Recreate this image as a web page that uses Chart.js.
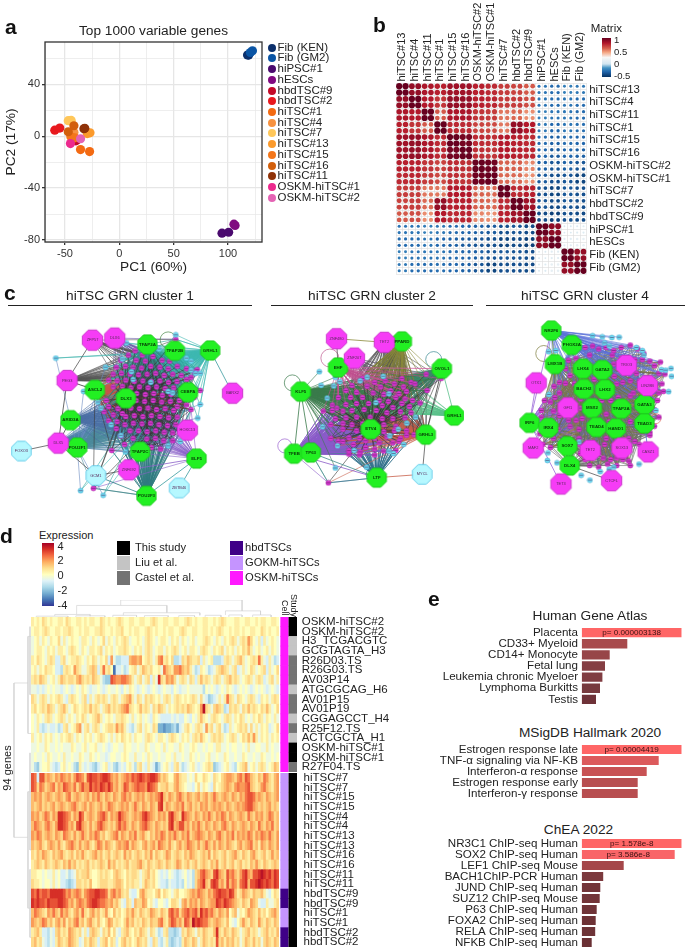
<!DOCTYPE html>
<html>
<head>
<meta charset="utf-8">
<title>hiTSC figure</title>
<script src="https://cdn.jsdelivr.net/npm/chart.js@4/dist/chart.umd.js"></script>
<style>
  html, body { margin: 0; background: #fff; }
  body { position: relative; width: 685px; height: 949px; overflow: hidden; font-family: "Liberation Sans", Arial, sans-serif; color: #222; }
  canvas { position: absolute; }
  .t { position: absolute; white-space: nowrap; line-height: 1; transform: translateY(-50%); }
  .c { transform: translate(-50%, -50%); }
  .letter { font-weight: bold; font-size: 21px; color: #111; }
  .bar { position: absolute; }
</style>
</head>
<body>
<script>
// panel a
const pcaSamples = ['Fib (KEN)', 'Fib (GM2)', 'hiPSC#1', 'hESCs', 'hbdTSC#9', 'hbdTSC#2', 'hiTSC#1', 'hiTSC#4', 'hiTSC#7', 'hiTSC#13', 'hiTSC#15', 'hiTSC#16', 'hiTSC#11', 'OSKM-hiTSC#1', 'OSKM-hiTSC#2'];
const pcaColors = ['#0b2f6b', '#0a55a5', '#4a0a6e', '#800a80', '#c40a28', '#e8191e', '#f36a12', '#f79240', '#ffc75a', '#fb9a2c', '#f4761a', '#d25f0c', '#8f3208', '#ec2a8e', '#e463b4'];
const pc1Values = [[119, 118], [122.5, 120.6], [94.5, 100.6], [106.5, 105.5], [-40, -38.5], [-59.4, -54.8], [-35.7, -27.4], [-41.8, -43], [-47, -44.3], [-27, -29.5], [-44.6, -41], [-41.8, -47], [-32.6, -31.8], [-45], [-35.7]];
const pc2Values = [[62.4, 62.5], [65.7, 64.4], [-74.7, -74], [-68.8, -67.8], [-3.6, -2.6], [4.6, 6.2], [-10.3, -11.9], [3.1, 1.5], [11.9, 12.1], [2.6, 2], [-0.5, -1.3], [8, 3.4], [5.7, 6], [-5.7], [-2]];
const pc1Ticks = [-50, -25, 0, 25, 50, 75, 100, 125];

// panel b, sample level correlation x100, each sample has two replicates in the plot
const corrSamples = ['hiTSC#13', 'hiTSC#4', 'hiTSC#11', 'hiTSC#1', 'hiTSC#15', 'hiTSC#16', 'OSKM-hiTSC#2', 'OSKM-hiTSC#1', 'hiTSC#7', 'hbdTSC#2', 'hbdTSC#9', 'hiPSC#1', 'hESCs', 'Fib (KEN)', 'Fib (GM2)'];
const corrRows = [
  [100, 88, 82, 78, 85, 85, 78, 75, 70, 68, 62, -25, -28, -22, -24],
  [88, 100, 80, 72, 88, 88, 78, 76, 70, 70, 65, -25, -28, -25, -28],
  [82, 80, 100, 62, 82, 82, 72, 70, 55, 58, 50, -22, -25, -25, -28],
  [78, 72, 62, 100, 75, 75, 68, 66, 55, 88, 80, -24, -30, -25, -27],
  [85, 88, 82, 75, 100, 96, 75, 74, 80, 78, 75, -28, -32, -28, -30],
  [85, 88, 82, 75, 96, 100, 74, 72, 80, 78, 76, -30, -34, -30, -32],
  [78, 78, 72, 68, 75, 74, 100, 98, 60, 60, 52, -32, -36, -32, -36],
  [75, 76, 70, 66, 74, 72, 98, 100, 58, 58, 50, -34, -38, -36, -42],
  [70, 70, 55, 55, 80, 80, 60, 58, 100, 75, 78, -38, -42, -35, -38],
  [68, 70, 58, 88, 78, 78, 60, 58, 75, 100, 85, -36, -40, -36, -38],
  [62, 65, 50, 80, 75, 76, 52, 50, 78, 85, 100, -40, -44, -38, -40],
  [-25, -25, -22, -24, -28, -30, -32, -34, -38, -36, -40, 100, 90, 5, 8],
  [-28, -28, -25, -30, -32, -34, -36, -38, -42, -40, -44, 90, 100, 10, 14],
  [-22, -25, -25, -25, -28, -30, -32, -36, -35, -36, -38, 5, 10, 100, 88],
  [-24, -28, -28, -27, -30, -32, -36, -42, -38, -38, -40, 8, 14, 88, 100]
];

// panel c, coordinates are network layout units
const net1Hubs = [['TFAP2A', 447, 160, 'g'], ['TFAP2B', 537, 181, 'g'], ['GRHL1', 653, 180, 'g'], ['ASCL2', 275, 310, 'g'], ['DLX3', 377, 338, 'g'], ['CEBPA', 580, 318, 'g'], ['ARID3A', 195, 410, 'g'], ['POU2F1', 217, 500, 'g'], ['TFAP2C', 423, 514, 'g'], ['ELF5', 608, 537, 'g'], ['POU2F3', 444, 660, 'g'], ['ZFP57', 267, 146, 'm'], ['DLX6', 340, 139, 'm'], ['PEG3', 184, 279, 'm'], ['BARX2', 726, 321, 'm'], ['HOXC13', 578, 443, 'm'], ['DLX5', 155, 486, 'm'], ['ZNF692', 386, 574, 'm'], ['FOXO3', 34, 512, 'c'], ['GCM1', 278, 593, 'c'], ['ZBTB46', 551, 634, 'c']];
const net1Genes = [407,181,385,195,430,195,465,200,495,212,540,143,360,212,410,212,440,215,520,215,545,232,575,240,345,235,375,232,400,235,428,238,458,232,488,235,515,240,600,250,610,243,335,258,362,255,390,258,418,260,446,258,474,255,502,262,530,258,558,262,590,268,320,278,348,280,376,278,404,282,432,280,460,282,488,280,516,285,544,282,575,275,335,300,365,298,393,303,421,300,449,303,477,300,505,305,533,303,620,312,312,345,412,322,440,325,468,322,496,328,524,325,552,345,600,335,320,365,350,372,410,345,438,348,466,345,494,350,522,348,545,365,575,360,305,382,335,392,365,388,393,370,421,372,449,370,477,375,505,372,533,378,590,375,320,412,348,415,376,398,404,395,432,398,460,395,488,398,516,402,545,400,345,438,373,425,401,420,429,422,457,420,485,425,513,428,540,425,360,462,390,445,418,445,446,448,474,445,502,450,530,452,555,450,372,490,400,470,445,472,473,470,500,478,530,478,330,510,460,500,490,505,270,635];
const net1Tfs = [147,205,378,155,540,128,470,162,485,175,365,208,310,235,395,250,575,205,590,215,605,255,620,255,590,245,238,315,285,350,295,370,400,275,458,285,515,315,530,320,590,340,620,358,612,403,328,425,375,515,360,460,515,495,555,480,228,643,302,658,400,510,395,340];
const net1Fans = [['DLX3', '#333333', 0, 120], ['TFAP2A', '#2f9c95', 0, 60], ['TFAP2A', '#3a3a3a', 30, 120], ['TFAP2B', '#35a8a0', 0, 70], ['GRHL1', '#3db8b0', 0, 60], ['GRHL1', '#3db8b0', 0, 32, 'tf'], ['GRHL1', '#35b5ad', 0, 40], ['TFAP2B', '#35a8a0', 0, 32, 'tf'], ['ASCL2', '#c8564a', 10, 90], ['ASCL2', '#3a3a3a', 30, 120], ['CEBPA', '#3a3a3a', 0, 120], ['ARID3A', '#4a6fa5', 40, 110], ['POU2F1', '#4a8a9a', 40, 120], ['POU2F1', '#6a8ac0', 0, 32, 'tf'], ['TFAP2C', '#3a3a3a', 0, 120], ['ELF5', '#8a5fc8', 70, 120], ['POU2F3', '#2f7a80', 60, 120], ['POU2F3', '#2f7a80', 60, 120], ['DLX5', '#4a7fa8', 50, 100], ['HOXC13', '#6f5fa8', 60, 100], ['PEG3', '#555555', 0, 40], ['ZFP57', '#555555', 0, 24], ['DLX6', '#6a5aa8', 0, 30]];
const net1Links = [['GCM1', 'POU2F3', '#2f7f85'], ['GCM1', 'DLX5', '#555555'], ['GCM1', 'ZNF692', '#555555'], ['FOXO3', 'DLX5', '#555555'], ['ZBTB46', 'ELF5', '#3a9aa0'], ['PEG3', 'ZFP57', '#555555'], ['PEG3', 'ASCL2', '#333333'], ['PEG3', 'DLX5', '#444444'], ['GRHL1', 'BARX2', '#3a9aa0'], ['ZNF692', 'POU2F3', '#2f7f85'], ['ARID3A', 'DLX5', '#444444'], ['POU2F1', 'DLX5', '#444444'], ['ELF5', 'POU2F3', '#3a9aa0'], ['ELF5', 'ZNF692', '#8a5fc8']];
const net1Loops = [[515, 145, 8, '#4a8a4a'], [432, 655, 6, '#2f7f85']];

const net2Hubs = [['PPARD', 515, 150, 'g'], ['EHF', 304, 236, 'g'], ['OVOL1', 647, 240, 'g'], ['KLF5', 181, 316, 'g'], ['ETV4', 412, 440, 'g'], ['GRHL3', 594, 458, 'g'], ['TFEB', 159, 521, 'g'], ['TP63', 214, 517, 'g'], ['LTF', 432, 600, 'g'], ['GRHL1', 688, 395, 'g'], ['ZNF480', 299, 141, 'm'], ['TET2', 457, 153, 'm'], ['ZNF207', 358, 205, 'm'], ['MYCL', 582, 589, 'c']];
const net2Genes = [595,258,645,272,598,312,515,272,545,285,558,290,385,272,425,285,460,280,490,290,520,300,350,295,400,298,445,300,478,312,505,322,530,315,330,312,365,318,420,320,455,325,495,335,525,340,550,345,305,335,345,335,385,335,440,345,470,348,515,355,575,353,285,360,300,370,330,358,365,355,405,355,450,362,485,368,540,365,255,380,285,378,320,380,350,378,390,375,430,378,465,385,510,382,545,385,295,405,330,402,365,400,410,400,450,405,485,405,525,402,280,425,320,420,350,425,385,422,455,425,495,430,320,440,365,445,455,448,490,445,530,445,555,458,280,470,305,480,340,468,375,470,425,470,465,465,510,470,530,460,320,480,355,490,395,478,440,485,485,485,505,480,300,495,340,510,378,515,395,500,425,505,455,512,495,510,375,525,425,525,340,522,272,617];
const net2Tfs = [242,250,248,295,290,297,295,268,310,283,268,337,377,280,400,268,453,265,472,323,429,352,253,432,503,440,531,420,560,400,475,462,521,490,472,512,487,520,302,495,357,510,295,568,398,565];
const net2Fans = [['ETV4', '#333333', 0, 96], ['EHF', '#c0508e', 0, 40], ['EHF', '#c0508e', 6, 26], ['KLF5', '#3a7a4a', 0, 70], ['KLF5', '#3a7a4a', 0, 60], ['KLF5', '#3a7a4a', 0, 23, 'tf'], ['PPARD', '#8a8a3a', 0, 55], ['PPARD', '#3a3a3a', 10, 70], ['OVOL1', '#3a8a6a', 0, 60], ['OVOL1', '#3a3a3a', 10, 70], ['GRHL1', '#5ac08a', 4, 48], ['GRHL3', '#c8604a', 24, 96], ['GRHL3', '#c8604a', 40, 80], ['GRHL3', '#3a3a3a', 0, 70], ['TFEB', '#8a5ac8', 16, 96], ['TFEB', '#8a5ac8', 0, 90], ['TFEB', '#8a5ac8', 30, 80], ['TP63', '#3f8a8a', 16, 96], ['TP63', '#3f8a8a', 16, 96], ['TP63', '#7a6ac0', 30, 90], ['LTF', '#2f6f8a', 40, 96], ['LTF', '#2f6f8a', 60, 96], ['TET2', '#555555', 0, 40], ['ZNF207', '#7a6a8a', 0, 30]];
const net2Links = [['ZNF480', 'TET2', '#8a8a3a'], ['ZNF480', 'EHF', '#555555'], ['EHF', 'OVOL1', '#d060a0'], ['LTF', 'MYCL', '#c8604a'], ['OVOL1', 'GRHL1', '#5ac08a'], ['OVOL1', 'GRHL3', '#3a3a3a'], ['GRHL3', 'MYCL', '#555555'], ['KLF5', 'TFEB', '#3a7a4a'], ['KLF5', 'TP63', '#3a7a4a'], ['TFEB', 'LTF', '#8a5ac8'], ['TP63', 'LTF', '#3f8a8a'], ['TET2', 'PPARD', '#8a8a3a']];
const net2Loops = [[153, 287, 8, '#3a7a4a'], [128, 495, 7, '#9a60d0'], [277, 205, 9, '#c05a90'], [620, 210, 8, '#3a8a90'], [420, 590, 7, '#2f6f8a']];

const net3Hubs = [['NR2F6', 283, 114, 'g'], ['PHOX2A', 351, 162, 'g'], ['LMX1B', 295, 225, 'g'], ['LHX4', 388, 240, 'g'], ['GATA2', 452, 244, 'g'], ['BACH2', 391, 307, 'g'], ['LHX2', 461, 309, 'g'], ['GATA3', 592, 358, 'g'], ['MSX2', 418, 370, 'g'], ['TFAP2A', 515, 372, 'g'], ['IRF6', 211, 419, 'g'], ['IRX4', 273, 435, 'g'], ['TEAD4', 433, 433, 'g'], ['HAND1', 497, 437, 'g'], ['TEAD3', 592, 421, 'g'], ['SOX7', 336, 496, 'g'], ['DLX4', 344, 560, 'g'], ['TRIO3', 532, 229, 'm'], ['OTX1', 233, 287, 'm'], ['LIN28B', 602, 296, 'm'], ['GFI1', 338, 369, 'm'], ['MAF2', 223, 502, 'm'], ['TET2', 412, 510, 'm'], ['SOX13', 517, 502, 'm'], ['CASZ1', 604, 515, 'm'], ['TET3', 315, 621, 'm'], ['CTCFL', 483, 610, 'm']];
const net3Genes = [395,170,420,165,440,175,465,170,490,180,515,170,545,162,570,175,590,190,410,195,485,195,515,205,340,212,365,205,585,210,610,215,625,230,645,218,560,210,330,240,345,262,490,225,492,265,425,275,565,255,575,280,640,255,660,258,650,290,655,315,310,285,330,288,292,298,360,290,500,290,520,285,545,280,555,320,640,320,635,345,625,375,260,345,280,350,295,335,310,320,545,330,505,335,380,340,450,345,480,345,250,378,290,380,380,370,250,400,310,395,340,410,365,410,385,405,465,390,545,415,640,400,625,430,305,440,345,430,375,440,475,415,610,450,245,455,290,470,375,470,465,470,540,470,560,480,610,460,255,490,280,500,375,490,460,490,575,490,440,520,455,535,480,540,500,535,520,540,540,545,395,540,410,560,440,565,470,555,500,560,545,560,380,520];
const net3Tfs = [420,131,452,135,484,137,508,136,274,184,298,180,460,155,475,165,565,170,585,180,590,195,648,243,680,239,662,245,682,265,672,316,275,325,630,378,375,482,272,518,270,543,302,551,382,592,411,608,445,580,475,572,574,555,490,565];
const net3Fans = [['NR2F6', '#5a70d8', 0, 40], ['NR2F6', '#5a70d8', 0, 10, 'tf'], ['PHOX2A', '#5a70d8', 0, 50], ['LMX1B', '#7a7a4a', 0, 90], ['LHX4', '#6a6a50', 0, 95], ['GATA2', '#6a6a6a', 0, 95], ['BACH2', '#6070c0', 10, 95], ['LHX2', '#6a8a6a', 0, 95], ['MSX2', '#5060c0', 0, 95], ['TFAP2A', '#b08040', 0, 95], ['IRF6', '#9a6ad8', 20, 80], ['IRF6', '#9a6ad8', 20, 50], ['IRX4', '#707050', 20, 95], ['TEAD4', '#707040', 10, 95], ['HAND1', '#806040', 10, 95], ['GATA3', '#5a6a5a', 0, 95], ['TEAD3', '#607060', 20, 95], ['SOX7', '#666666', 30, 95], ['DLX4', '#666666', 50, 95], ['GFI1', '#555555', 20, 80], ['SOX13', '#555555', 40, 95]];
const net3Links = [['IRF6', 'TET3', '#9a6ad8'], ['IRF6', 'OTX1', '#9a6ad8'], ['IRF6', 'NR2F6', '#9a6ad8'], ['MAF2', 'IRX4', '#555555'], ['DLX4', 'TET3', '#555555'], ['DLX4', 'CTCFL', '#555555'], ['TEAD3', 'CASZ1', '#5a70d8'], ['NR2F6', 'LMX1B', '#6a8a3a']];
const net3Loops = [[258, 190, 8, '#7a7a3a'], [630, 405, 5, '#e07060']];

// panel d, one letter per gene: a ... i (zero) ... q, see levelOf
const topRowLabels = ['OSKM-hiTSC#2', 'OSKM-hiTSC#2', 'H3_TCGACGTC', 'GCGTAGTA_H3', 'R26D03.TS', 'R26G03.TS', 'AV03P14', 'ATGCGCAG_H6', 'AV01P15', 'AV01P19', 'CGGAGCCT_H4', 'R25F12.TS', 'ACTCGCTA_H1', 'OSKM-hiTSC#1', 'OSKM-hiTSC#1', 'R27F04.TS'];
const topRowValues = [
  'jijikjijii jjikjiijji jijjiikjij iijkjiijji ijjiijkjii jjiijjiijk jijiijjiij ijkjiiijji ijjiijijji ijji',
  'ijjijkjiij jijjkjiiji jjiijjkjii jijjkiijij jiijkjijii jijjiijkji ijjiijjiji jkjiijijji jiijjiikji jiij',
  'hijhjihjii khjhijiihj jihjihikhj ihjijkjhii jihjkjihij jihjijhjih ijhiijkjih jihjijkjhj kjmkihjgjh ijih',
  'hijjihjijh jjihjkjihj ihjjijkhji jhijjkjihj ijhjkjhijj hjijkjhijh jjihjkjihj ijkhjijhji kjljhijhij hjih',
  'jikjihjkjg gjkhijjkji hjikjhjikg mhffggglmm lmijkjhjmn jkikffgkjl kjjkgjhijf ffgjkjhjkl jhijkjnjhg jhfg',
  'ijhjikjjig gfjkjimkjh hjklkgjnjk ibgghfgijk hjlkjkiijh nlkjmmnlkl jhfgjihfgh jklkjhjkgh jhikjhijkg jhik',
  'jkjlkjhijh jlkjkkjlmk jkjlkjhfee onmmnnmljh jkhjkgjhpk jmlmkhjkjh kjgjljkjhj kjhjkljkjh ijkjhjkjgh jkhj',
  'hhghghihih hghihghihj ihghhihghi hhihgihjih ghihghihgh ihhgihghhi hhhhhfihih ghihjihghi hihghihihg hihg',
  'kjhjkjhjij kjhgjkjihj kgjhjkjkjh jkjhjklmjh kjhkjkjijh jkjhjkjiji jkjhkhgefg hjhjnkjhkj ihjkjhgjij hjkj',
  'jkijkjlkjh jkljhikjij kjljkjhjkl jkjklmnkji jljkjhkjlk jhjijkjkjl kjijmqkjhk lkjfgkjkjh kjljkjikjl jhik',
  'ihjihjkjhi jkjhjihjik jhijkljhij ihjjkjihjh ijhihgjihg ggghghggih gihjljihjk jihjkjhjik jhihjikjhj ihjh',
  'ihjgfghggh fgjkhijlmh jkhjkjhijk kjmkljhgfh jkhjihkjdd cddefdghjk ihjkjhmjkh jkhfgjhijk jkhkhjhjij ghik',
  'jhijhjijhi hjijkjhjih jijhijkjih jhjikjijhj iihjkjihjj ihjkjihjij hjkjljihjk jkjhijkjhi kjljmjhjij hjij',
  'hhihhjihhi hihhhjihhi jhiijhhihg hiihhjiihh ihhjihhiih jhiihhjihh ijihhihiih jjhhihiihh ihjhhiihhj hihh',
  'hihhihjihh ihjhhihhji hhjihihhgh iihhijihhj hhihjihhih hiihjhhihh jihihhijhh ihhjihhihh jihhihhjih hihi',
  'hfehiijhgf gijhihfejh ghgfeghijg hfeghgijhf jkhgjhgdfh ijhgjkhfgh ijhghijkje fghijhgfij klhijhjkjh ijlk'
];
const bottomRowLabels = ['hiTSC#7', 'hiTSC#7', 'hiTSC#15', 'hiTSC#15', 'hiTSC#4', 'hiTSC#4', 'hiTSC#13', 'hiTSC#13', 'hiTSC#16', 'hiTSC#16', 'hiTSC#11', 'hiTSC#11', 'hbdTSC#9', 'hbdTSC#9', 'hiTSC#1', 'hiTSC#1', 'hbdTSC#2', 'hbdTSC#2'];
const bottomRowValues = [
  'ongoolmlkm lnmlmkmonm kopoonoppo mlmklmnmon oponoppomk lkiilmkjjh ihkiikjihk jiklmmlkmn lonlkjlknm kjlm',
  'onknmklmnk mlonmlnkmo mmpnonponp nlmklonlmn onnmponmjk kljjlmkjih hgikhjihgk ijklmlkmnm mnolkjkmnl kjlm',
  'lmlmklmlkl mlkmnklmlk lmkmlnlkml kmlkmnlmkl mlmklmlmnp lkmlkmnlkm lklmklmkln lklmlkmlkm lnoonlmlkm lklm',
  'lklmklklmk lmlklmnlkl mkmlklmkln mlklmlmkln lkmlkmlkop kmlklmlnkl mklkmlmklm lmlkmlklml mnoomlklkl mklk',
  'mlmklnmkml pponmkmlpn klmlkmnomk mlmpnmlklm lmopnmlkml mkopmlkpnm lkmlkmlnlk mlnmkmlklm lknlkmlmkl nmkl',
  'lnmlkmnlkm pponlmkopm lkmklnomlk lkmomnlkml kmnomlkmlk lkoplmoolm kmlnlkmlkm lkmnlkmlkl mlkmlknlkm lnkl',
  'mlnmklmlkm lknmlkmkln lkmlnmkljk lmnkmlkmln klmkjlkmln mkmlnlkmln klmnmlkmlk mnlkmlnkml mlnmkmlnml nlkm',
  'lklmkjlmlk mkjlmnlkmk lmkjlnmkml kjlmlmnkml kjlmklmknm lkmkjlmkln mlkmklnlkm kmlkmlkjlm klmnkljmlk mlkm',
  'kjlkmlkjlk lmkjkljlkm kjklmkljkl jklkjmkljk lkjlkmjlkj kmljklkjlk mlkjklkmjl kjkljklmkj lkjlmkjklj kmkl',
  'jklkjlkjkl kjlkmkljkj kljkjklkjm kljkjkljkk lmkjlkjklk jlkjkmljkl jkljklkjlk mjkljkljkl jkjlkmkjlk jklk',
  'jjiihihhjh igghfghkjk kljiijkjkj iklkjikjkk jhjkljkihg hgihgfghig hfklnomlko pmlkomnlkm opmloopqpo pnpo',
  'kjjihiihjh iggfefgkkj kjliijkkkj jkllkikjkj jhjlkjkihg gfhggfgfig hfkmnplkop olmkolnmkn oploopqpop onpo',
  'onpnoonppp ppomnlmnmk mnooppoonk mnlmkjkhgg ilmkjjikli kjihjkiijk lmlnmlkmln opoonpoljk mlkjlkkljh gikj',
  'popoonpooo pponlmkmnm lnopponnml mkljhgkjgl kkmlijhgii hgikkjhlmk mlmkmlklmm ponponmlkj lkjmlkhggj hhjk',
  'lnmlkjmlnl knlmkjlmkn kjlmkljkmj iljkijlkmk jlkjkmlkjl kjnomnkmno mnolpnomnl kmlkmiklhj ikmlkjljki klmk',
  'mlklnmkljl mkmjlkmnkl jlmkjljikm ljkjikmklj kjlkjlkkmn kjmonlmkon lqoponnlkl mlkjlihgik mkjlkjmkjl kjlk',
  'jkljggfhgk ljkjmlkjkh jgklkjhkjl ikhgjkljik jlkjhkjhfg jkffefgkjl kjhkjlkjjl pkjlkjlkjh jkljkjhjkl jkjl',
  'kljkhgfhgj lkjkmlkjgh kjlkjgjkli kjgikljkij lkjkhgkjgf hjfefgfjlk jlkhjlkjkj okljlkljkh jlkjljkhkl kjlk'
];
const topStudy = ['This study', 'This study', 'Liu et al.', 'Liu et al.', 'Castel et al.', 'Castel et al.', 'Castel et al.', 'Liu et al.', 'Castel et al.', 'Castel et al.', 'Liu et al.', 'Castel et al.', 'Liu et al.', 'This study', 'This study', 'Castel et al.'];
const topCell = topRowLabels.map(() => 'OSKM-hiTSCs');
const bottomStudy = bottomRowLabels.map(() => 'This study');
const bottomCell = ['GOKM-hiTSCs', 'GOKM-hiTSCs', 'GOKM-hiTSCs', 'GOKM-hiTSCs', 'GOKM-hiTSCs', 'GOKM-hiTSCs', 'GOKM-hiTSCs', 'GOKM-hiTSCs', 'GOKM-hiTSCs', 'GOKM-hiTSCs', 'GOKM-hiTSCs', 'GOKM-hiTSCs', 'hbdTSCs', 'hbdTSCs', 'GOKM-hiTSCs', 'GOKM-hiTSCs', 'hbdTSCs', 'hbdTSCs'];
const annotationColors = { 'This study': '#000000', 'Liu et al.': '#c4c4c4', 'Castel et al.': '#737373', 'hbdTSCs': '#3f0087', 'GOKM-hiTSCs': '#c594ff', 'OSKM-hiTSCs': '#ff19ff' };
// dendrograms: polylines in gene position/merge height, and depth/row position
const topDendro = [[34,.68,34,1,80,1,80,.36], [17.3,.15,17.3,.68,51.5,.68,51.5,.25], [73.7,.12,73.7,.36,87,.36,87,.12], [9,.05,9,.15,22.4,.15,22.4,.05], [35,.1,35,.25,64,.25,64,.1], [2,0,2,.05,14,.05,14,0], [17,0,17,.07,28,.07,28,0], [31,0,31,.1,40,.1,40,0], [43,0,43,.08,52,.08,52,0], [56,0,56,.08,62,.08,62,0], [66,0,66,.1,72,.1,72,0], [75,0,75,.12,80,.12,80,0], [84,0,84,.12,91,.12,91,0]];
const leftDendro = [[18,6.8,4,6.8,4,22.7,18,22.7], [18,2,18,12,21,12], [18,2,21,2], [18,18,18,30,21,30], [18,18,21,18], [20,1,20,8,21,8], [20,14,20,24,21,24], [20,26,20,33,21,33]];

// panel e
const atlasLabels = ['Placenta', 'CD33+ Myeloid', 'CD14+ Monocyte', 'Fetal lung', 'Leukemia chronic Myeloer', 'Lymphoma Burkitts', 'Testis'];
const atlasValues = [100, 45.6, 28, 23.3, 20.7, 18.3, 14.3];
const atlasColors = ['#ff6666', '#a84a4c', '#974548', '#853e43', '#803d42', '#773a3e', '#6e3238'];
const atlasP = ['p= 0.000003138'];
const hallmarkLabels = ['Estrogen response late', 'TNF-α signaling via NF-KB', 'Interferon-α response', 'Estrogen response early', 'Interferon-γ response'];
const hallmarkValues = [100, 77, 65, 56, 56];
const hallmarkColors = ['#ff6666', '#dc5a5c', '#c85254', '#b84e50', '#b84e50'];
const hallmarkP = ['p= 0.00004419'];
const cheaLabels = ['NR3C1 ChIP-seq Human', 'SOX2 ChIP-seq Human', 'LEF1 ChIP-seq Mouse', 'BACH1ChIP-PCR Human', 'JUND ChIP-seq Human', 'SUZ12 ChIP-seq Mouse', 'P63 ChIP-seq Human', 'FOXA2 ChIP-seq Human', 'RELA ChIP-seq Human', 'NFKB ChIP-seq Human'];
const cheaValues = [100, 93, 42, 21.5, 18.6, 18, 15, 14, 13.5, 10];
const cheaColors = ['#ff6666', '#f96568', '#a5474a', '#7c3a3e', '#733539', '#733539', '#703438', '#6e3236', '#6e3438', '#6a3034'];
const cheaP = ['p= 1.578e-8', 'p= 3.586e-8'];

const corrStops = [[-.5, '#053061'], [-.3, '#2166ac'], [-.15, '#4393c3'], [0, '#d1e5f0'], [.25, '#f7f7f7'], [.45, '#f4a582'], [.6, '#d6604d'], [.8, '#b2182b'], [1, '#67001f']];
const heatStops = [[-4, '#313695'], [-3.2, '#4575b4'], [-2.4, '#74add1'], [-1.6, '#abd9e9'], [-.8, '#e0f3f8'], [0, '#ffffbf'], [.8, '#fee090'], [1.6, '#fdae61'], [2.4, '#f46d43'], [3.2, '#d73027'], [4, '#a50026']];

Chart.defaults.font.family = '"Liberation Sans", Arial, sans-serif';
Chart.defaults.color = '#222';
Chart.defaults.animation = false;
Chart.defaults.responsive = false;
Chart.defaults.plugins.legend.display = false;
Chart.defaults.plugins.tooltip.enabled = false;

function place(left, top, w, h) {
  const cv = document.createElement('canvas');
  cv.width = w; cv.height = h;
  cv.style.left = left + 'px';
  cv.style.top = top + 'px';
  document.body.appendChild(cv);
  return cv;
}

function text(str, x, y, css = '', cls = '') {
  const el = document.createElement('div');
  el.className = 't ' + cls;
  el.textContent = str;
  el.style.cssText = `left:${x}px;top:${y}px;${css}`;
  document.body.appendChild(el);
  return el;
}

function box(x, y, w, h, bg) {
  const el = document.createElement('div');
  el.className = 'bar';
  el.style.cssText = `left:${x}px;top:${y}px;width:${w}px;height:${h}px;background:${bg}`;
  document.body.appendChild(el);
  return el;
}

// locks an axis to a pixel size so the plot areas land where they should
const fixed = size => s => {
  s.paddingLeft = s.paddingRight = s.paddingTop = s.paddingBottom = 0;
  if (s.isHorizontal()) s.height = size; else s.width = size;
};

function hexRgb(h) {
  return [1, 3, 5].map(i => parseInt(h.slice(i, i + 2), 16));
}

function ramp(stops, v) {
  if (v <= stops[0][0]) return stops[0][1];
  for (let i = 1; i < stops.length; i++) {
    if (v <= stops[i][0]) {
      const [v0, c0] = stops[i - 1], [v1, c1] = stops[i];
      const f = (v - v0) / (v1 - v0);
      const a = hexRgb(c0), b = hexRgb(c1);
      return `rgb(${a.map((x, k) => Math.round(x + (b[k] - x) * f)).join(',')})`;
    }
  }
  return stops[stops.length - 1][1];
}

function gradientCss(stops) {
  const lo = stops[0][0], hi = stops[stops.length - 1][0];
  return 'linear-gradient(to top,' + stops.map(s => `${s[1]} ${(s[0] - lo) / (hi - lo) * 100}%`).join(',') + ')';
}

/* panel a */
const plotFrame = {
  id: 'plotFrame',
  afterDraw(chart) {
    const { ctx, chartArea: a } = chart;
    ctx.save();
    ctx.strokeStyle = '#333';
    ctx.lineWidth = 1.3;
    ctx.strokeRect(a.left, a.top, a.right - a.left, a.bottom - a.top);
    ctx.restore();
  }
};

new Chart(place(0, 0, 300, 282), {
  type: 'scatter',
  data: {
    datasets: pcaSamples.map((name, i) => ({
      label: name,
      data: pc1Values[i].map((x, k) => ({ x, y: pc2Values[i][k] })),
      backgroundColor: pcaColors[i],
      borderWidth: 0,
      pointRadius: 4.6,
      order: pcaSamples.length - i
    }))
  },
  options: {
    layout: { padding: { top: 42, right: 38 } },
    scales: {
      x: {
        min: -68.4, max: 131.3,
        afterFit: fixed(40),
        afterBuildTicks: s => { s.ticks = pc1Ticks.map(value => ({ value })); },
        ticks: { autoSkip: false, maxRotation: 0, color: '#333', font: { size: 11 }, padding: 2, callback: v => v % 50 === 0 ? v : '' },
        grid: { color: '#e6e6e6', lineWidth: c => c.tick && c.tick.value % 50 === 0 ? 1.3 : .7, tickLength: 3, tickColor: c => c.tick && c.tick.value % 50 === 0 ? '#333' : 'transparent' },
        title: { display: true, text: 'PC1 (60%)', font: { size: 13.7 }, color: '#222', padding: { top: 0, bottom: 7 } }
      },
      y: {
        min: -81.5, max: 72.5,
        afterFit: fixed(45),
        ticks: { stepSize: 20, includeBounds: false, autoSkip: false, color: '#333', font: { size: 11 }, padding: 2, callback: v => v % 40 === 0 ? v : '' },
        grid: { color: '#e6e6e6', lineWidth: c => c.tick && c.tick.value % 40 === 0 ? 1.3 : .7, tickLength: 3, tickColor: c => c.tick && c.tick.value % 40 === 0 ? '#333' : 'transparent' },
        title: { display: true, text: 'PC2 (17%)', font: { size: 13.7 }, color: '#222', padding: { top: 3, bottom: 0 } }
      }
    }
  },
  plugins: [plotFrame]
});

text('Top 1000 variable genes', 153.5, 30.5, 'font-size:13.7px', 'c');
pcaSamples.forEach((name, i) => {
  const y = 47.7 + i * 10.72;
  const dot = box(267.6, y - 4, 8, 8, pcaColors[i]);
  dot.style.borderRadius = '50%';
  text(name, 277.5, y, 'font-size:11.5px');
});

/* panel b */
const corrPoints = [];
corrRows.forEach((row, i) => row.forEach((v, j) => {
  for (const a of [0, 1]) for (const b of [0, 1]) {
    corrPoints.push({ x: 2 * j + b + .5, y: 2 * i + a + .5, v: v / 100 });
  }
}));
const pairTicks = s => { s.ticks = corrSamples.map((_, i) => ({ value: 2 * i + 1 })); };
const corrGrid = { color: '#dcdcdc', lineWidth: .6, drawTicks: false };

new Chart(place(370, 0, 315, 285), {
  type: 'scatter',
  data: {
    datasets: [{
      data: corrPoints,
      borderWidth: 0,
      backgroundColor: c => ramp(corrStops, c.raw.v),
      pointRadius: c => .7 + 2.4 * Math.pow(Math.abs(c.raw.v), .75)
    }]
  },
  options: {
    layout: { padding: { left: 26, bottom: 11, top: 0 } },
    scales: {
      x: {
        position: 'top', min: 0, max: 30, afterFit: fixed(83), afterBuildTicks: pairTicks,
        ticks: { autoSkip: false, minRotation: 90, maxRotation: 90, padding: 1.5, labelOffset: 13, color: '#222', font: { size: 11 }, callback: (v, i) => corrSamples[i] },
        grid: { display: false, drawTicks: false }, border: { display: false }
      },
      y: {
        position: 'right', reverse: true, min: 0, max: 30, afterFit: fixed(98.3), afterBuildTicks: pairTicks,
        ticks: { autoSkip: false, padding: 2.5, color: '#222', font: { size: 11.4 }, callback: (v, i) => corrSamples[i] },
        grid: { display: false, drawTicks: false }, border: { display: false }
      },
      gx: { axis: 'x', position: 'bottom', min: 0, max: 30, afterFit: fixed(0), ticks: { display: false, stepSize: 1 }, grid: corrGrid, border: { display: false } },
      gy: { axis: 'y', position: 'left', min: 0, max: 30, afterFit: fixed(0), ticks: { display: false, stepSize: 1 }, grid: corrGrid, border: { display: false } }
    }
  }
});

text('Matrix', 590.7, 29, 'font-size:11.5px');
box(601.7, 38, 9, 39, gradientCss(corrStops));
[['1', 40], ['0.5', 52.3], ['0', 63.5], ['-0.5', 76]].forEach(([s, y]) => text(s, 614, y, 'font-size:9.5px'));

/* panel c */
function octagon(fill, stroke, r) {
  const cv = document.createElement('canvas');
  cv.width = cv.height = 25;
  const g = cv.getContext('2d');
  g.beginPath();
  for (let i = 0; i < 8; i++) {
    const a = Math.PI / 8 + i * Math.PI / 4;
    g.lineTo(12.5 + r * Math.cos(a), 12.5 + r * Math.sin(a));
  }
  g.closePath();
  g.fillStyle = fill;
  g.fill();
  g.strokeStyle = stroke;
  g.lineWidth = .9;
  g.stroke();
  return cv;
}

function smallNode(fill, stroke) {
  const cv = document.createElement('canvas');
  cv.width = cv.height = 7;
  const g = cv.getContext('2d');
  g.beginPath();
  g.arc(3.5, 3.5, 2.6, 0, Math.PI * 2);
  g.fillStyle = fill;
  g.fill();
  g.strokeStyle = stroke;
  g.lineWidth = .4;
  g.stroke();
  g.fillStyle = 'rgba(70,30,80,.6)';
  g.fillRect(1.5, 3.1, 4, .8);
  return cv;
}

const hubIcons = { g: octagon('#22f022', '#1cc81c', 10.4), m: octagon('#f63cf6', '#c832c8', 11), c: octagon('#b6f8ff', '#5cc8e8', 10.6) };
const geneIcon = smallNode('#d838d0', '#9a2a9a');
const tfIcon = smallNode('#70d8f0', '#3ba0c8');

const toPoints = flat => {
  const out = [];
  for (let i = 0; i < flat.length; i += 2) out.push({ x: flat[i], y: flat[i + 1] });
  return out;
};

function network(left, w, hubs, genes, tfs, fans, links, loops) {
  const genePts = toPoints(genes), tfPts = toPoints(tfs);
  const hubAt = Object.fromEntries(hubs.map(h => [h[0], { x: h[1], y: h[2] }]));
  const gap = { x: NaN, y: NaN };
  const edgeSets = fans.map(([hub, color, from, to, pool]) => ({
    data: (pool === 'tf' ? tfPts : genePts).slice(from, to).flatMap(p => [hubAt[hub], p, gap]),
    borderColor: color + 'c8', borderWidth: .75, showLine: true, pointRadius: 0, spanGaps: false, order: 5
  }));
  const linkSets = links.map(([a, b, color]) => ({
    data: [hubAt[a], hubAt[b]], borderColor: color, borderWidth: .8, showLine: true, pointRadius: 0, order: 4
  }));
  const hubLabels = {
    id: 'hubLabels',
    afterDatasetsDraw(chart) {
      const { ctx, scales } = chart;
      ctx.save();
      ctx.textAlign = 'center';
      ctx.textBaseline = 'middle';
      hubs.forEach(([name, x, y, kind]) => {
        ctx.font = kind === 'g' ? 'bold 4.4px "Liberation Sans"' : '3.9px "Liberation Sans"';
        ctx.fillStyle = kind === 'g' ? '#063a06' : '#5a2a5a';
        ctx.fillText(name, scales.x.getPixelForValue(x), scales.y.getPixelForValue(y));
      });
      ctx.restore();
    }
  };
  return new Chart(place(left, 285, w, 240), {
    type: 'scatter',
    data: {
      datasets: [
        ...edgeSets,
        ...linkSets,
        { data: loops.map(l => ({ x: l[0], y: l[1] })), pointRadius: loops.map(l => l[2]), backgroundColor: 'transparent', borderColor: loops.map(l => l[3]), borderWidth: .7, order: 4 },
        { data: genePts, pointStyle: geneIcon, pointRadius: 3, order: 3 },
        { data: tfPts, pointStyle: tfIcon, pointRadius: 3, order: 2 },
        { data: hubs.map(h => ({ x: h[1], y: h[2] })), pointStyle: hubs.map(h => hubIcons[h[3]]), pointRadius: 10, order: 1 }
      ]
    },
    options: {
      layout: { padding: 0 },
      scales: {
        x: { display: false, min: 0, max: w * 3 },
        y: { display: false, min: 0, max: 720, reverse: true }
      }
    },
    plugins: [hubLabels]
  });
}

network(0, 260, net1Hubs, net1Genes, net1Tfs, net1Fans, net1Links, net1Loops);
network(235, 240, net2Hubs, net2Genes, net2Tfs, net2Fans, net2Links, net2Loops);
network(455, 230, net3Hubs, net3Genes, net3Tfs, net3Fans, net3Links, net3Loops);

[['hiTSC GRN cluster 1', 130, 8, 244], ['hiTSC GRN cluster 2', 372, 271, 202], ['hiTSC GRN cluster 4', 585, 486, 199]].forEach(([s, cx, x, w]) => {
  text(s, cx, 295.5, 'font-size:13.7px', 'c');
  box(x, 304.5, w, 1.1, '#222');
});

/* panel d */
const GENES = 94;
const levelOf = ch => (ch.charCodeAt(0) - 105) * .46;

function heatmap(top, h, labels, rows, cell, study, labelPad) {
  const parsed = rows.map(r => r.replace(/ /g, ''));
  const datasets = [];
  for (let g = 0; g < GENES; g++) {
    datasets.push({
      data: labels.map(() => 1),
      backgroundColor: parsed.map(r => ramp(heatStops, levelOf(r[g] || 'i')))
    });
  }
  // annotation strips share the same stacked axis as the genes
  datasets.push({ data: labels.map(() => .76), backgroundColor: 'transparent' });
  datasets.push({ data: labels.map(() => 2.77), backgroundColor: cell.map(k => annotationColors[k]) });
  datasets.push({ data: labels.map(() => .27), backgroundColor: 'transparent' });
  datasets.push({ data: labels.map(() => 3.15), backgroundColor: study.map(k => annotationColors[k]) });
  return new Chart(place(31, top, 369, h + 6), {
    type: 'bar',
    data: { labels, datasets },
    options: {
      indexAxis: 'y',
      layout: { padding: { top: 3, bottom: 3 } },
      datasets: { bar: { categoryPercentage: 1, barPercentage: 1, borderWidth: 0 } },
      scales: {
        x: { display: false, stacked: true, min: 0, max: 100.95 },
        y: {
          stacked: true, position: 'right', afterFit: fixed(103),
          grid: { display: false, drawTicks: false }, border: { display: false },
          ticks: { autoSkip: false, padding: labelPad, color: '#222', font: { size: 11.5 } }
        }
      }
    }
  });
}

heatmap(614, 155.5, topRowLabels, topRowValues, topCell, topStudy, 4.7);
heatmap(770, 174.5, bottomRowLabels, bottomRowValues, bottomCell, bottomStudy, 6.5);

function dendrogram(left, top, w, h, lines, xMax, yMax, yReverse) {
  return new Chart(place(left, top, w, h), {
    type: 'scatter',
    data: { datasets: lines.map(l => ({ data: toPoints(l), showLine: true, pointRadius: 0, borderColor: '#d2d2d2', borderWidth: .7 })) },
    options: {
      layout: { padding: 0 },
      scales: {
        x: { display: false, min: 0, max: xMax },
        y: { display: false, min: 0, max: yMax, reverse: yReverse }
      }
    }
  });
}

dendrogram(31, 600, 248, 17, topDendro, 94, 1, false);
dendrogram(10, 617, 21, 330, leftDendro, 21, 34, true);

text('Expression', 39, 535, 'font-size:11px');
box(41.7, 543, 12.6, 63, gradientCss(heatStops));
[['4', 545.7], ['2', 560], ['0', 575], ['-2', 590], ['-4', 605]].forEach(([s, y]) => text(s, 57.5, y, 'font-size:11px'));

[['This study', 117, 135], ['Liu et al.', 117, 135], ['Castel et al.', 117, 135], ['hbdTSCs', 230, 245], ['GOKM-hiTSCs', 230, 245], ['OSKM-hiTSCs', 230, 245]].forEach(([s, bx, tx], i) => {
  const y = 541 + (i % 3) * 15;
  box(bx, y, 13, 14, annotationColors[s]);
  text(s, tx, y + 7, 'font-size:11.2px');
});
text('Cell', 284, 600, 'font-size:9px;transform:translateY(-50%) rotate(90deg);transform-origin:left center');
text('Study', 293, 593.5, 'font-size:9px;transform:translateY(-50%) rotate(90deg);transform-origin:left center');
text('94 genes', 7, 768, 'font-size:11px;transform:translate(-50%,-50%) rotate(-90deg)');

/* panel e */
function enrichment(top, h, labels, values, colors, pLabels) {
  const pText = {
    id: 'pText',
    afterDatasetsDraw(chart) {
      const { ctx } = chart;
      ctx.save();
      ctx.font = '8.1px "Liberation Sans"';
      ctx.fillStyle = '#3a1010';
      ctx.textAlign = 'center';
      ctx.textBaseline = 'middle';
      pLabels.forEach((s, i) => {
        const b = chart.getDatasetMeta(0).data[i];
        ctx.fillText(s, (b.base + b.x) / 2, b.y + .5);
      });
      ctx.restore();
    }
  };
  return new Chart(place(420, top, 265, h), {
    type: 'bar',
    data: { labels, datasets: [{ data: values, backgroundColor: colors, borderWidth: 0, categoryPercentage: 1, barPercentage: .84 }] },
    options: {
      indexAxis: 'y',
      layout: { padding: { right: 3.3 } },
      scales: {
        x: { display: false, min: 0, max: 100 },
        y: {
          afterFit: fixed(161.7),
          grid: { display: false, drawTicks: false }, border: { display: false },
          ticks: { autoSkip: false, padding: 3.7, color: '#222', font: { size: 11.6 } }
        }
      }
    },
    plugins: [pText]
  });
}

enrichment(627, 78, atlasLabels, atlasValues, atlasColors, atlasP);
enrichment(744, 55, hallmarkLabels, hallmarkValues, hallmarkColors, hallmarkP);
enrichment(838, 110, cheaLabels, cheaValues, cheaColors, cheaP);

text('Human Gene Atlas', 590, 616, 'font-size:13.7px', 'c');
text('MSigDB Hallmark 2020', 590, 733, 'font-size:13.7px', 'c');
text('ChEA 2022', 578.5, 829.5, 'font-size:13.7px', 'c');

[['a', 5, 26], ['b', 373, 24], ['c', 4, 292], ['d', 0, 535], ['e', 428, 598]].forEach(([s, x, y]) => text(s, x, y, '', 'letter'));
</script>
</body>
</html>
